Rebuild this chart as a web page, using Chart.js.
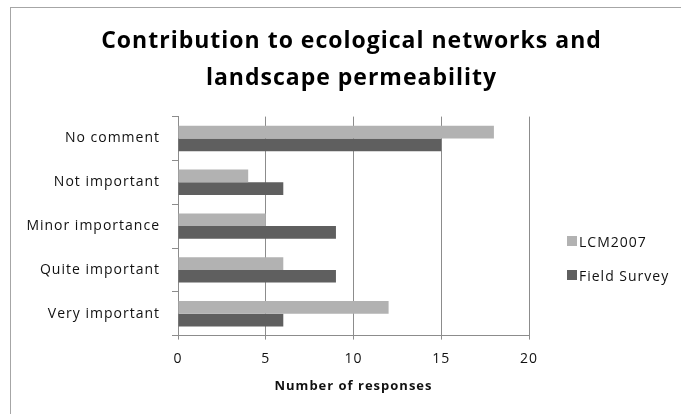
<!DOCTYPE html>
<html>
<head>
<meta charset="utf-8">
<script src="https://cdn.jsdelivr.net/npm/chart.js@4"></script>
<style>
  html, body { margin: 0; padding: 0; background: #fff; }
  #wrap { position: relative; width: 681px; height: 414px; overflow: hidden; }
  #frame { position: absolute; left: 10px; top: 7px; right: -5px; bottom: -5px;
           border-left: 1px solid #a6a6a6; border-top: 1px solid #a6a6a6; pointer-events: none; }
  #legend { position: absolute; left: 567px; top: 231px; font-family: "Open Sans", sans-serif;
            font-size: 14px; letter-spacing: 1px; color: #111; }
  #legend div { display: flex; align-items: center; height: 20px; margin-bottom: 14px; }
  #legend span.box { display: inline-block; width: 10px; height: 10px; margin-right: 2px; }
</style>
</head>
<body>
<div id="wrap">
  <canvas id="respChart" width="681" height="414"></canvas>
  <div id="frame"></div>
  <div id="legend"></div>
</div>
<script>
// ===============================
// DONNEES
// ===============================
const categories = ["No comment", "Not important", "Minor importance", "Quite important", "Very important"];
const seriesNames = ["LCM2007", "Field Survey"];
const lcmValues = [18, 4, 5, 6, 12];
const fieldValues = [15, 6, 9, 9, 6];
const xTicks = [0, 5, 10, 15, 20];
const colors = ["#b2b2b2", "#5f5f5f"];

// texte un peu plus large (police type Calibri etiree)
const spacingPlugin = {
    id: 'spacing',
    beforeUpdate: chart => { chart.ctx.letterSpacing = '1px'; },
    beforeDraw: chart => { chart.ctx.letterSpacing = '1px'; }
};

// ===============================
// GRAPHIQUE
// ===============================
const ctx = document.getElementById('respChart').getContext('2d');
new Chart(ctx, {
    type: 'bar',
    plugins: [spacingPlugin],
    data: {
        labels: categories,
        datasets: [
            { label: seriesNames[0], data: lcmValues, backgroundColor: colors[0] },
            { label: seriesNames[1], data: fieldValues, backgroundColor: colors[1] }
        ]
    },
    options: {
        indexAxis: 'y',
        responsive: false,
        animation: false,
        categoryPercentage: 0.58,
        barPercentage: 1,
        layout: { padding: { left: 22, right: 0, top: 22, bottom: 20 } },
        plugins: {
            legend: { display: false },
            tooltip: { enabled: false },
            title: {
                display: true,
                text: ["Contribution to ecological networks and", "landscape permeability"],
                color: "#000",
                font: { family: "Open Sans", size: 23, weight: 'bold', lineHeight: 1.6 },
                padding: { top: 1, bottom: 20 }
            }
        },
        scales: {
            x: {
                min: 0,
                max: 20,
                afterBuildTicks: s => { s.ticks = xTicks.map(v => ({ value: v })); },
                ticks: { color: "#111", font: { family: "Open Sans", size: 14 }, padding: 11 },
                grid: { color: "#8c8c8c", tickLength: 4 },
                border: { display: true, color: "#8c8c8c" },
                title: {
                    display: true,
                    text: "Number of responses",
                    color: "#111",
                    font: { family: "Open Sans", size: 13, weight: 'bold' },
                    padding: { top: 0, bottom: 0 }
                }
            },
            y: {
                afterFit: s => { s.width = 156; },
                ticks: { color: "#111", font: { family: "Open Sans", size: 14 }, padding: 12 },
                grid: { offset: true, drawOnChartArea: false, tickLength: 6, color: "#8c8c8c" },
                border: { display: true, color: "#8c8c8c" }
            },
            // place reservee a la legende, a droite
            legendSpace: {
                type: 'category',
                position: 'right',
                labels: [''],
                afterFit: s => { s.width = 152; },
                ticks: { display: false },
                grid: { display: false },
                border: { display: false }
            }
        }
    }
});

// legende
const legend = document.getElementById('legend');
seriesNames.forEach((name, i) => {
    const row = document.createElement('div');
    row.innerHTML = '<span class="box" style="background:' + colors[i] + '"></span>' + name;
    legend.appendChild(row);
});
</script>
</body>
</html>
